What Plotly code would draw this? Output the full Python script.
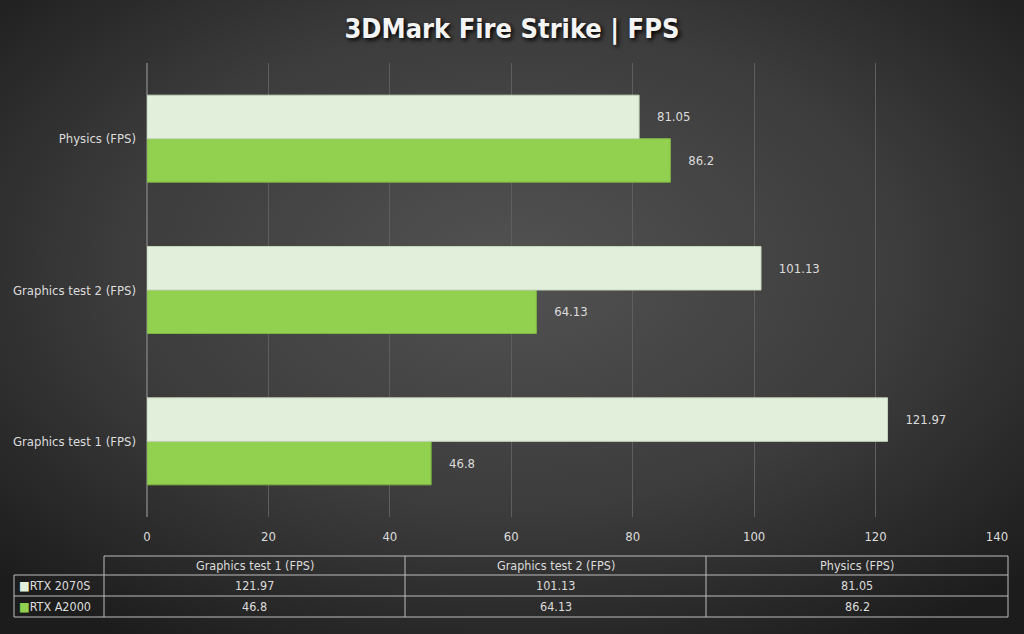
import base64
import plotly.graph_objects as go

# data
tests = ["Graphics test 1 (FPS)", "Graphics test 2 (FPS)", "Physics (FPS)"]
rtx_2070s = [121.97, 101.13, 81.05]
rtx_a2000 = [46.8, 64.13, 86.2]
gpus = ["RTX 2070S", "RTX A2000"]
x_ticks = [0, 20, 40, 60, 80, 100, 120, 140]

light = "#e2efda"
green = "#92d050"
txt = "#dcdcdc"
font = "Liberation Sans Narrow, DejaVu Sans Condensed, Arial Narrow, sans-serif"

# plot area in pixels
L, R, T, B = 147, 997, 63, 517
W, H = 1024, 634

def px(x):
    return (x - L) / (R - L)

def py(y):
    return (B - y) / (B - T)

fig = go.Figure()
fig.add_trace(go.Bar(
    y=tests, x=rtx_a2000, name=gpus[1], orientation="h",
    marker=dict(color=green, line=dict(color="#7fb544", width=1)),
    texttemplate="\u00a0\u00a0\u00a0\u00a0%{x}", textposition="outside",
    textfont=dict(color=txt, size=13, family=font), cliponaxis=False,
))
fig.add_trace(go.Bar(
    y=tests, x=rtx_2070s, name=gpus[0], orientation="h",
    marker=dict(color=light, line=dict(color="#c6d6bd", width=1)),
    texttemplate="\u00a0\u00a0\u00a0\u00a0%{x}", textposition="outside",
    textfont=dict(color=txt, size=13, family=font), cliponaxis=False,
))

# background gradient
svg = ("<svg xmlns='http://www.w3.org/2000/svg' width='1024' height='634'>"
       "<defs><radialGradient id='g' cx='50%' cy='42%' r='70%'>"
       "<stop offset='0' stop-color='#525252'/><stop offset='0.55' stop-color='#3c3c3c'/>"
       "<stop offset='1' stop-color='#1c1c1c'/></radialGradient></defs>"
       "<rect width='100%' height='100%' fill='url(#g)'/></svg>")
src = "data:image/svg+xml;base64," + base64.b64encode(svg.encode()).decode()
fig.add_layout_image(dict(source=src, xref="paper", yref="paper",
                          x=px(0), y=py(0), sizex=W / (R - L), sizey=H / (B - T),
                          sizing="stretch", layer="below", xanchor="left", yanchor="top"))

# data table below the chart
cols = [14, 104, 405, 706, 1008]
rows = [556, 575, 596, 617]
line = dict(color="#bdbdbd", width=1)
shapes = []
shapes.append(dict(type="line", x0=px(cols[1]), x1=px(cols[-1]), y0=py(rows[0]), y1=py(rows[0])))
for r in rows[1:]:
    shapes.append(dict(type="line", x0=px(cols[0]), x1=px(cols[-1]), y0=py(r), y1=py(r)))
shapes.append(dict(type="line", x0=px(cols[0]), x1=px(cols[0]), y0=py(rows[1]), y1=py(rows[-1])))
for c in cols[1:]:
    shapes.append(dict(type="line", x0=px(c), x1=px(c), y0=py(rows[0]), y1=py(rows[-1])))
for s in shapes:
    s.update(xref="paper", yref="paper", line=line, layer="above")

annotations = []
for i, t in enumerate(tests):
    cx = (cols[i + 1] + cols[i + 2]) / 2
    annotations.append(dict(x=px(cx), y=py((rows[0] + rows[1]) / 2), text=t))
    annotations.append(dict(x=px(cx), y=py((rows[1] + rows[2]) / 2), text=str(rtx_2070s[i])))
    annotations.append(dict(x=px(cx), y=py((rows[2] + rows[3]) / 2), text=str(rtx_a2000[i])))
for j, (g, c) in enumerate(zip(gpus, [light, green])):
    annotations.append(dict(x=px(cols[0] + 3), y=py((rows[j + 1] + rows[j + 2]) / 2),
                            text=f"<span style='color:{c}'>■</span>{g}", xanchor="left"))
for a in annotations:
    a.setdefault("xanchor", "center")
    a.update(xref="paper", yref="paper", showarrow=False, yanchor="middle",
             font=dict(color=txt, size=12.5, family=font))

fig.update_layout(
    width=W, height=H,
    margin=dict(l=L, r=W - R, t=T, b=H - B),
    paper_bgcolor="#2b2b2b", plot_bgcolor="rgba(0,0,0,0)",
    barmode="group", bargap=0.425, bargroupgap=0,
    showlegend=False,
    title=dict(text="<b>3DMark Fire Strike | FPS</b>", x=0.5, xref="container", y=0.955,
               xanchor="center", yanchor="middle",
               font=dict(size=27, color="#f4f4f4", family="DejaVu Sans Condensed, sans-serif",
                         shadow="2px 2px 4px #000000")),
    xaxis=dict(range=[0, 140], tickvals=x_ticks, showgrid=True, gridcolor="#5e5e5e",
               gridwidth=1, zeroline=True, zerolinecolor="#6a6a6a", showline=False,
               tickfont=dict(color=txt, size=13, family=font), ticklabelstandoff=10),
    yaxis=dict(showgrid=False, tickfont=dict(color=txt, size=13, family=font),
               ticklabelstandoff=10),
    shapes=shapes, annotations=annotations,
)

fig.write_html("out.html", config={"displayModeBar": False},
               post_script="document.body.style.margin='0';document.body.style.overflow='hidden';")
